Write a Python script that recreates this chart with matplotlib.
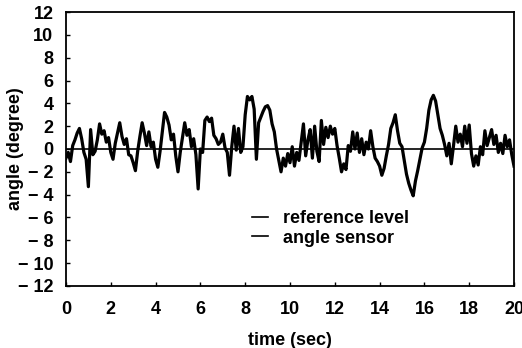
import matplotlib
matplotlib.use("Agg")
import matplotlib.pyplot as plt
import numpy as np

plt.rcParams['font.family'] = ['Liberation Sans', 'DejaVu Sans']
plt.rcParams['font.weight'] = 'bold'

t_start = 0.0
t_step = 0.1
angle = [
    -0.8, -0.3, -1.1, 0.3, 0.8, 1.4, 1.8, 0.9, -0.3, -0.9,
    -3.3, 1.7, -0.5, -0.2, 0.8, 2.2, 1.3, 1.6, 0.6, 1.0,
    -0.3, -0.9, 0.5, 1.4, 2.3, 1.1, 0.4, 0.9, -0.5, -0.6,
    -1.2, -1.9, -0.2, 1.1, 2.3, 1.4, 0.3, 1.5, 0.2, 0.6,
    -0.9, -1.6, -0.2, 1.5, 3.2, 2.8, 2.1, 0.8, 1.3, -0.6,
    -2.0, -0.3, 1.0, 2.3, 1.2, 1.7, 0.2, 0.9, -0.5, -3.5,
    0.0, -0.3, 2.5, 2.8, 2.4, 2.7, 1.2, 0.9, 0.4, 0.6,
    1.3, 0.1, -0.3, -2.3, 0.2, 2.0, -0.1, 1.8, -0.3, 0.2,
    3.0, 4.6, 4.3, 4.6, 3.5, -0.9, 2.3, 2.8, 3.3, 3.7,
    3.8, 3.4, 2.2, 1.5, 0.0, -1.0, -2.0, -0.8, -1.5, -0.4,
    -1.2, 0.2, -1.5, -0.3, -1.0, 0.6, 2.2, -0.6, 0.8, 1.7,
    -0.8, 2.0, -0.2, -1.1, 2.5, 0.4, 1.9, 1.0, 2.0, 1.3,
    1.8, 0.3, -0.8, -2.0, -1.3, -1.8, 0.3, -0.2, 1.5, 0.0,
    1.4, -0.3, 0.9, -0.5, 0.6, 0.0, 1.6, 0.2, -0.8, -1.1,
    -1.5, -2.3, -1.7, -0.6, 0.4, 1.8, 2.3, 3.0, 1.6, 0.5,
    0.2, -1.0, -2.2, -3.0, -3.6, -4.1, -2.8, -1.9, -0.9, 0.1,
    0.6, 1.8, 3.4, 4.3, 4.7, 4.2, 3.0, 1.8, 1.2, 0.4,
    -0.6, 0.5, -1.3, 0.3, 2.0, 0.6, 1.3, 0.2, 2.0, 0.5,
    2.1, -0.4, -1.5, -0.6, -1.4, 0.2, -0.5, 1.6, 0.3, 1.0,
    1.7, 0.4, 1.2, -0.3, 0.5, -0.4, 1.2, 0.2, 0.8, -0.5,
    -1.5,
]
reference_level = 0.0
xticks = [0, 2, 4, 6, 8, 10, 12, 14, 16, 18, 20]
yticks = [12, 10, 8, 6, 4, 2, 0, -2, -4, -6, -8, -10, -12]
ytick_labels = ['12', '10', '8', '6', '4', '2', '0', '\u2212 2', '\u2212 4',
                '\u2212 6', '\u2212 8', '\u2212 10', '\u2212 12']
series_labels = ['reference level', 'angle sensor']

time = t_start + t_step * np.arange(len(angle))

fig = plt.figure(figsize=(5.22, 3.48), dpi=100)
ax = fig.add_axes([0.1264, 0.1782, 0.8583, 0.7873])

ax.axhline(reference_level, color='black', lw=1.2, label=series_labels[0])
ax.plot(time, angle, color='black', lw=2.3, label=series_labels[1])

ax.set_xlim(0, 20)
ax.set_ylim(-12, 12)
ax.set_xticks(xticks)
ax.set_xticklabels([str(v) for v in xticks])
ax.set_yticks(yticks)
ax.set_yticklabels(ytick_labels)
ax.tick_params(direction='in', length=3, width=1, labelsize=13, colors='black')
ax.tick_params(axis='y', pad=9)
ax.tick_params(axis='x', pad=11)
for s in ax.spines.values():
    s.set_linewidth(1.3)

ax.set_xlabel('time (sec)', fontsize=13, fontweight='bold', labelpad=10)
ax.set_ylabel('angle (degree)', fontsize=13, fontweight='bold')
ax.yaxis.set_label_coords(-0.094, 0.5)

leg = ax.legend(loc='upper left', bbox_to_anchor=(0.415, 0.277), frameon=False,
                prop={'size': 13, 'weight': 'bold'}, handlelength=0.9,
                handletextpad=0.8, labelspacing=0.15,
                borderpad=0, borderaxespad=0)
for ln in leg.get_lines():
    ln.set_linewidth(1.2)

fig.savefig('out.png', dpi=100)
